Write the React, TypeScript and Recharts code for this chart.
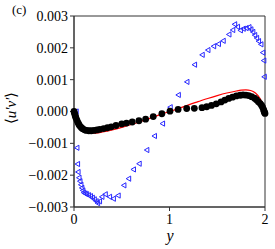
import { ComposedChart, Line, ReferenceArea, Scatter, XAxis, YAxis } from "recharts"

// all <u'v'> values in units of 1e-3
const redY = [0, 0.02, 0.05, 0.1, 0.15, 0.2, 0.25, 0.3, 0.4, 0.5, 0.6, 0.7, 0.8, 0.9, 1.0, 1.1, 1.2, 1.3, 1.4, 1.5, 1.6, 1.7, 1.75, 1.8, 1.85, 1.9, 1.95, 1.98, 2.0]
const redUV = [0, -0.2, -0.4, -0.58, -0.66, -0.68, -0.67, -0.645, -0.58, -0.5, -0.41, -0.31, -0.21, -0.1, 0, 0.1, 0.21, 0.31, 0.41, 0.5, 0.58, 0.645, 0.67, 0.68, 0.66, 0.58, 0.4, 0.2, 0]

const blackY = [0, 0.005, 0.01, 0.015, 0.02, 0.03, 0.04, 0.05, 0.06, 0.075, 0.09, 0.11, 0.13, 0.155, 0.18, 0.21, 0.24, 0.27, 0.31, 0.35, 0.39, 0.44, 0.5, 0.55, 0.61, 0.68, 0.75, 0.83, 0.92, 1.005, 1.09, 1.18, 1.26, 1.34, 1.39, 1.44, 1.49, 1.54, 1.58, 1.62, 1.66, 1.7, 1.74, 1.77, 1.8, 1.83, 1.86, 1.89, 1.91, 1.93, 1.95, 1.965, 1.975, 1.985, 1.99, 1.995, 2.0]
const blackUV = [0, -0.05, -0.1, -0.15, -0.2, -0.27, -0.34, -0.4, -0.45, -0.5, -0.54, -0.575, -0.595, -0.605, -0.605, -0.595, -0.58, -0.56, -0.535, -0.51, -0.48, -0.44, -0.39, -0.365, -0.33, -0.29, -0.24, -0.16, -0.07, 0.01, 0.065, 0.095, 0.1, 0.12, 0.15, 0.19, 0.24, 0.3, 0.36, 0.41, 0.45, 0.49, 0.51, 0.52, 0.515, 0.5, 0.465, 0.42, 0.37, 0.31, 0.25, 0.19, 0.13, 0.06, 0.01, -0.03, -0.06]

const blueY = [0.02, 0.028, 0.035, 0.04, 0.05, 0.06, 0.07, 0.08, 0.09, 0.1, 0.115, 0.13, 0.15, 0.17, 0.19, 0.21, 0.23, 0.245, 0.265, 0.29, 0.325, 0.37, 0.41, 0.46, 0.52, 0.57, 0.62, 0.68, 0.76, 0.84, 0.925, 1.005, 1.09, 1.18, 1.26, 1.34, 1.4, 1.46, 1.51, 1.56, 1.62, 1.66, 1.68, 1.71, 1.74, 1.77, 1.8, 1.83, 1.85, 1.87, 1.89, 1.91, 1.93, 1.955, 1.975, 1.985, 1.99]
const blueUV = [0, -1.14, -1.65, -1.9, -2.08, -2.19, -2.3, -2.4, -2.48, -2.55, -2.58, -2.6, -2.63, -2.66, -2.71, -2.76, -2.82, -2.88, -2.82, -2.68, -2.6, -2.68, -2.74, -2.64, -2.32, -2.11, -1.82, -1.64, -1.21, -0.77, -0.38, 0.135, 0.52, 0.93, 1.47, 1.78, 1.93, 2.05, 2.12, 2.22, 2.42, 2.56, 2.74, 2.66, 2.55, 2.6, 2.62, 2.65, 2.58, 2.5, 2.4, 2.31, 2.21, 2.11, 1.85, 1.6, 1.09]

const xTicks = [0, 1, 2]
const yTicks = [-3, -2, -1, 0, 1, 2, 3]

const redData = redY.map((x, i) => ({ x, v: redUV[i] }))
const blackData = blackY.map((x, i) => ({ x, v: blackUV[i] }))
const blueData = blueY.map((x, i) => ({ x, v: blueUV[i] }))

const FONT = "Liberation Serif, serif"
const AXIS = "#333"

const fmtY = (v: number) => {
  const s = (Math.abs(v) / 1000).toFixed(3)
  return v < 0 ? "\u2212" + s : s
}

function Tri(props: any) {
  const { cx, cy } = props
  const w = 4.5
  const h = 2.6
  return (
    <path
      d={`M${cx - w / 2},${cy} L${cx + w / 2},${cy - h} L${cx + w / 2},${cy + h} Z`}
      fill="none"
      stroke="#2626ff"
      strokeWidth={1}
    />
  )
}

function Dot(props: any) {
  return <circle cx={props.cx} cy={props.cy} r={3.4} fill="#000" />
}

const yLabel = () => (
  <text x={0} y={0} transform="translate(16,108) rotate(-90)" textAnchor="middle" fontFamily={FONT} fontSize={15} fill="#000">
    ⟨<tspan fontStyle="italic">u′v′</tspan>⟩
  </text>
)

const xLabel = () => (
  <text x={170} y={241} textAnchor="middle" fontFamily={FONT} fontSize={16} fontStyle="italic" fill="#000">
    y
  </text>
)

export default function App() {
  return (
    <div style={{ position: "absolute", left: 0, top: 0, width: 275, height: 249, background: "#fff", fontFamily: FONT }}>
      <div style={{ position: "absolute", left: 12, top: 2, fontSize: 13, lineHeight: "16px" }}>(c)</div>
      <ComposedChart width={275} height={249} margin={{ top: 16, right: 10, left: 14, bottom: 0 }}>
        <XAxis
          dataKey="x"
          type="number"
          domain={[0, 2]}
          ticks={xTicks}
          height={42}
          tickSize={4}
          tickMargin={3}
          stroke={AXIS}
          tick={{ fontFamily: FONT, fontSize: 14, fill: "#000" }}
          label={xLabel}
        />
        <YAxis
          dataKey="v"
          type="number"
          domain={[-3, 3]}
          ticks={yTicks}
          width={60}
          tickSize={4}
          tickMargin={2}
          stroke={AXIS}
          tickFormatter={fmtY}
          tick={{ fontFamily: FONT, fontSize: 14, fill: "#000" }}
          label={yLabel}
        />
        <ReferenceArea x1={0} x2={2} y1={-3} y2={3} fill="none" stroke={AXIS} strokeWidth={1} ifOverflow="visible" />
        <Line data={redData} dataKey="v" type="monotone" stroke="#ff0000" strokeWidth={1.2} dot={false} isAnimationActive={false} />
        <Scatter data={blueData} dataKey="v" shape={Tri} isAnimationActive={false} />
        <Scatter data={blackData} dataKey="v" shape={Dot} isAnimationActive={false} />
      </ComposedChart>
    </div>
  )
}
